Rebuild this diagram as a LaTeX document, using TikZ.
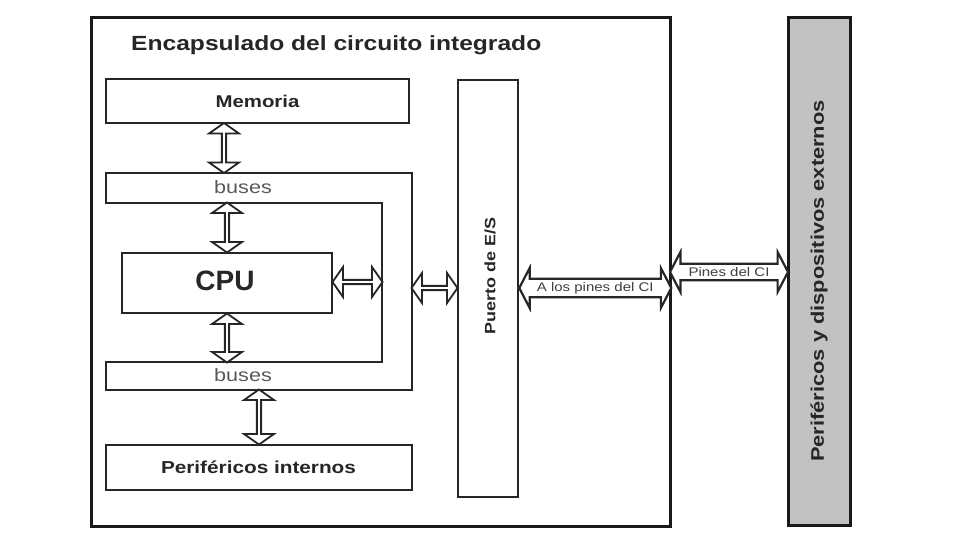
\documentclass[tikz,border=0pt]{standalone}
\usepackage{fontspec}
\setmainfont{Liberation Sans}
\newfontfamily\widefont[FakeStretch=1.2]{Liberation Sans}
\usetikzlibrary{shapes.arrows,calc}
\begin{document}
\begin{tikzpicture}[x=1pt,y=-1pt,
  box/.style={draw=black!85, line width=2pt, fill=white, inner sep=0pt},
  dblv/.style={double arrow, draw=black!85, line width=1.8pt, fill=white,
    double arrow head extend=5.5pt, minimum width=30pt, inner sep=0pt,
    double arrow tip angle=110},
  dblh/.style={double arrow, draw=black!85, line width=2.2pt, fill=white,
    double arrow head extend=8pt, minimum width=40pt, inner sep=0pt,
    double arrow tip angle=125, text=black!75,
    font=\widefont\fontsize{12.5}{14}\selectfont},
  lbl/.style={text=black!85, inner sep=0pt},
]
\useasboundingbox (0,0) rectangle (960,540);
% outer package box
\node[draw=black!90, line width=3pt, minimum width=579pt, minimum height=508pt, inner sep=0pt] (pkg) at (380.5,272) {};
\node[lbl, anchor=west, font=\widefont\bfseries\fontsize{20.5}{24}\selectfont] (title) at (131,45) {Encapsulado del circuito integrado};
% memory
\node[box, minimum width=303pt, minimum height=44pt] (mem) at (257.5,101) {};
\node[lbl, font=\widefont\bfseries\fontsize{17}{20}\selectfont] (memt) at (257.5,101) {Memoria};
% buses shape
\coordinate (b1) at (106,173);
\coordinate (b2) at (412,173);
\coordinate (b3) at (412,390);
\coordinate (b4) at (106,390);
\coordinate (b5) at (106,362);
\coordinate (b6) at (382,362);
\coordinate (b7) at (382,203);
\coordinate (b8) at (106,203);
\draw[draw=black!85, line width=2pt, fill=white] (b1) -- (b2) -- (b3) -- (b4) -- (b5) -- (b6) -- (b7) -- (b8) -- cycle;
\node[lbl, text=black!65, font=\widefont\fontsize{18}{20}\selectfont] (busa) at (243,187) {buses};
\node[lbl, text=black!65, font=\widefont\fontsize{18}{20}\selectfont] (busb) at (243,375) {buses};
% CPU
\node[box, minimum width=210pt, minimum height=60pt] (cpu) at (227,283) {};
\node[lbl, font=\bfseries\fontsize{28}{30}\selectfont] (cput) at (225,281) {CPU};
% I/O port
\node[box, minimum width=60pt, minimum height=417pt] (port) at (488,288.5) {};
\node[lbl, rotate=90, font=\widefont\bfseries\fontsize{15}{18}\selectfont] (portt) at (490,276) {Puerto de E/S};
% internal peripherals
\node[box, minimum width=306pt, minimum height=45pt] (per) at (259,467.5) {};
\node[lbl, font=\widefont\bfseries\fontsize{17.3}{20}\selectfont] (pert) at (258.5,467) {Periféricos internos};
% external devices
\node[draw=black!90, line width=3pt, fill=black!24, minimum width=62pt, minimum height=507pt, inner sep=0pt] (ext) at (819,271.5) {};
\node[lbl, rotate=90, font=\widefont\bfseries\fontsize{18.2}{20}\selectfont] (extt) at (819,281) {Periféricos y dispositivos externos};
% vertical bus arrows
\node[dblv, rotate=90, minimum height=50pt] (a1) at ($(224,123)!0.5!(224,173)$) {};
\node[dblv, rotate=90, minimum height=50pt] (a2) at ($(227,203)!0.5!(cpu.north -| 227,0)$) {};
\node[dblv, rotate=90, minimum height=49pt] (a3) at ($(cpu.south -| 227,0)!0.5!(227,362)$) {};
\node[dblv, rotate=90, minimum height=55pt] (a4) at ($(259,390)!0.5!(per.north -| 259,0)$) {};
% horizontal arrows
\node[dblv, minimum height=50pt] (a5) at ($(cpu.east |- 0,282)!0.5!(382,282)$) {};
\node[dblv, minimum height=46pt] (a6) at ($(412,288)!0.5!(port.west |- 0,288)$) {};
\node[dblh, minimum height=152pt] (a7) at ($(port.east |- 0,288)!0.5!(pkg.east |- 0,288)$) {A los pines del CI};
\node[dblh, minimum height=118pt] (a8) at ($(pkg.east |- 0,272)!0.5!(ext.west |- 0,272)$) {Pines del CI};
\end{tikzpicture}
\end{document}
